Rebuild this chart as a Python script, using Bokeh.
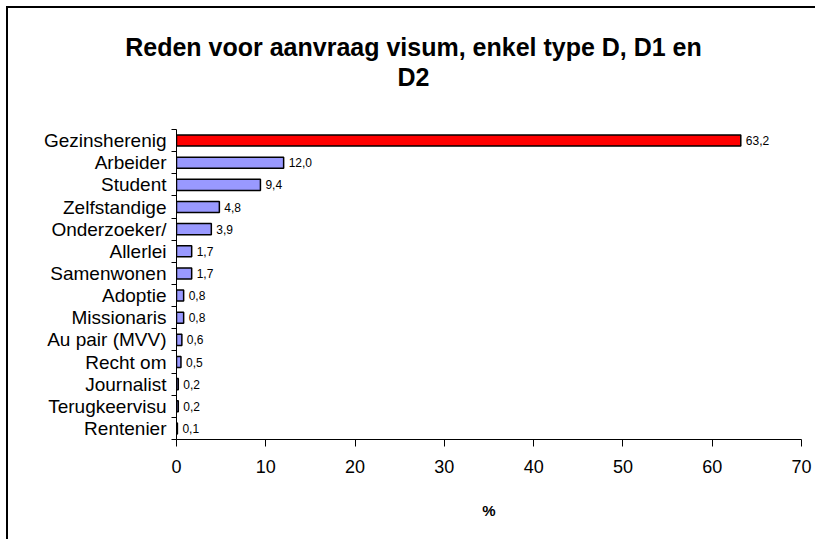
from bokeh.plotting import figure
from bokeh.layouts import column
from bokeh.models import Range1d, FixedTicker, Label, ColumnDataSource
from bokeh.embed import file_html
from bokeh.resources import INLINE

categories = ["Gezinsherenig", "Arbeider", "Student", "Zelfstandige", "Onderzoeker/",
              "Allerlei", "Samenwonen", "Adoptie", "Missionaris", "Au pair (MVV)",
              "Recht om", "Journalist", "Terugkeervisu", "Rentenier"]
values = [63.2, 12.0, 9.4, 4.8, 3.9, 1.7, 1.7, 0.8, 0.8, 0.6, 0.5, 0.2, 0.2, 0.1]
x_ticks = [0, 10, 20, 30, 40, 50, 60, 70]
title_lines = ["Reden voor aanvraag visum, enkel type D, D1 en", "D2"]
x_label = "%"

FONT = "Liberation Sans"
W = 807
TH = 112
BL, BR = 168, 14
n = len(categories)
ypos = [n - 1 - i for i in range(n)]
colors = ["#FF0000"] + ["#9999FF"] * (n - 1)
labels = [f"{v:.1f}".replace(".", ",") for v in values]

# ---- title strip ----
tp = figure(width=W, height=TH, output_backend="svg", toolbar_location=None,
            x_range=Range1d(0, W), y_range=Range1d(TH, 0),
            min_border_left=0, min_border_right=0, min_border_top=0, min_border_bottom=0)
tp.frame_align = False
tp.axis.visible = False
tp.grid.visible = False
tp.outline_line_color = None
tp.background_fill_color = "white"
tp.border_fill_color = "white"
for txt, yy in zip(title_lines, [38, 68]):
    tp.add_layout(Label(x=405, y=yy, text=txt, text_align="center", text_baseline="middle",
                        text_font=FONT, text_font_size="25px", text_font_style="bold",
                        text_color="black"))

# ---- bar chart ----
src = ColumnDataSource(dict(cat=categories, val=values, y=ypos, color=colors, lab=labels))

p = figure(width=W, height=419, output_backend="svg", toolbar_location=None,
           x_range=Range1d(0, 70), y_range=Range1d(-0.5, n - 0.5),
           min_border_left=BL, min_border_right=BR, min_border_top=9, min_border_bottom=100)
p.frame_align = False
p.outline_line_color = None
p.xgrid.grid_line_color = None
p.ygrid.grid_line_color = None
p.background_fill_color = "white"
p.border_fill_color = "white"

p.hbar(y="y", right="val", left=0, height=0.5, fill_color="color",
       line_color="black", line_width=1.5, source=src)
p.text(x="val", y="y", text="lab", x_offset=5, text_baseline="middle", text_align="left",
       text_font_size="12px", text_font={"value": FONT}, text_color="black", source=src)

# x axis
p.xaxis.ticker = FixedTicker(ticks=x_ticks)
p.xaxis.axis_line_color = "black"
p.xaxis.major_tick_line_color = "black"
p.xaxis.major_tick_in = 0
p.xaxis.major_tick_out = 7
p.xaxis.minor_tick_line_color = None
p.xaxis.major_label_text_font = FONT
p.xaxis.major_label_text_font_size = "18px"
p.xaxis.major_label_text_color = "black"
p.xaxis.major_label_standoff = 13
p.xaxis.axis_label = x_label
p.xaxis.axis_label_text_font = FONT
p.xaxis.axis_label_text_font_size = "15px"
p.xaxis.axis_label_text_font_style = "bold"
p.xaxis.axis_label_text_color = "black"
p.xaxis.axis_label_standoff = 26

# y axis: labels at category centers, ticks at boundaries
p.yaxis.ticker = FixedTicker(ticks=ypos, minor_ticks=[k - 0.5 for k in range(n + 1)])
p.yaxis.major_label_overrides = {y: c for y, c in zip(ypos, categories)}
p.yaxis.axis_line_color = "black"
p.yaxis.major_tick_in = 0
p.yaxis.major_tick_out = 0
p.yaxis.minor_tick_in = 0
p.yaxis.minor_tick_out = 5
p.yaxis.minor_tick_line_color = "black"
p.yaxis.major_label_text_font = FONT
p.yaxis.major_label_text_font_size = "19px"
p.yaxis.major_label_text_color = "black"
p.yaxis.major_label_standoff = 5

layout = column(tp, p, spacing=0)
layout.styles = {"margin-left": "6px", "margin-top": "6px",
                 "border-left": "2px solid black", "border-top": "2px solid black"}

open("out.html", "w").write(file_html(layout, INLINE))
